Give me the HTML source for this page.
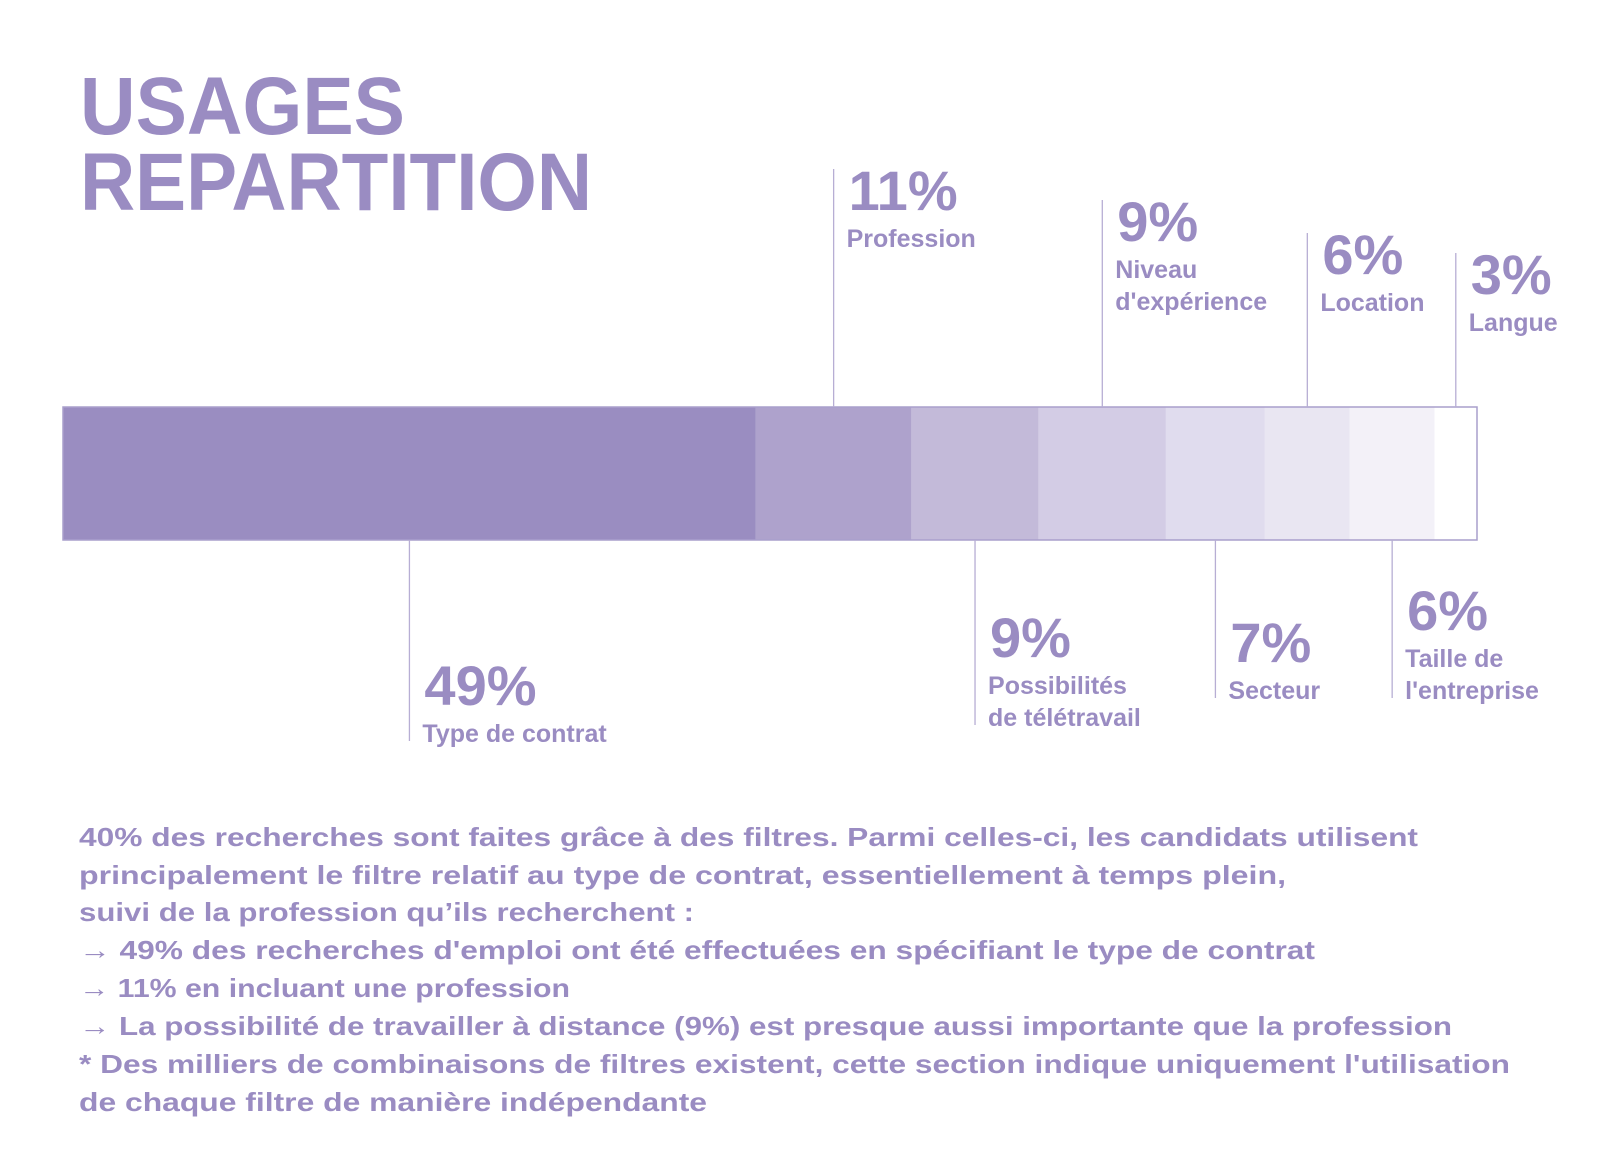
<!DOCTYPE html>
<html><head><meta charset="utf-8"><style>
html,body{margin:0;padding:0;background:#fff;}
svg{display:block;font-family:"Liberation Sans",sans-serif;}
</style></head><body>
<svg id="chart" width="1600" height="1162" viewBox="0 0 1600 1162">
  <g fill="#9a8cc2" font-weight="bold" font-size="82">
    <text x="80" y="134" textLength="325" lengthAdjust="spacingAndGlyphs">USAGES</text>
    <text x="80" y="210" textLength="512" lengthAdjust="spacingAndGlyphs">REPARTITION</text>
  </g>
  <g id="bars"></g>
  <g id="labels"></g>
  <g fill="#9a8cc2" font-weight="bold" font-size="26">
    <text x="79" y="846" textLength="1339" lengthAdjust="spacingAndGlyphs">40% des recherches sont faites grâce à des filtres. Parmi celles-ci, les candidats utilisent</text>
    <text x="79" y="884" textLength="1207" lengthAdjust="spacingAndGlyphs">principalement le filtre relatif au type de contrat, essentiellement à temps plein,</text>
    <text x="79" y="921" textLength="615" lengthAdjust="spacingAndGlyphs">suivi de la profession qu’ils recherchent :</text>
    <text x="79" y="959" textLength="1236" lengthAdjust="spacingAndGlyphs">→ 49% des recherches d'emploi ont été effectuées en spécifiant le type de contrat</text>
    <text x="79" y="997" textLength="491" lengthAdjust="spacingAndGlyphs">→ 11% en incluant une profession</text>
    <text x="79" y="1035" textLength="1373" lengthAdjust="spacingAndGlyphs">→ La possibilité de travailler à distance (9%) est presque aussi importante que la profession</text>
    <text x="79" y="1073" textLength="1431" lengthAdjust="spacingAndGlyphs">* Des milliers de combinaisons de filtres existent, cette section indique uniquement l'utilisation</text>
    <text x="79" y="1111" textLength="628" lengthAdjust="spacingAndGlyphs">de chaque filtre de manière indépendante</text>
  </g>
</svg>
<script>
const categories = ["Type de contrat","Profession","Possibilités|de télétravail","Niveau|d'expérience","Secteur","Location","Taille de|l'entreprise","Langue"];
const values = [49, 11, 9, 9, 7, 6, 6, 3];
const valueLabels = ["49%","11%","9%","9%","7%","6%","6%","3%"];
const sides = ["bottom","top","bottom","top","bottom","top","bottom","top"];
const leaderEnds = [741, 169, 725, 200, 698, 233, 698, 253];
const colors = ["#9a8dc1","#aea2cc","#c3bad9","#d3cce5","#e0dcee","#e9e6f2","#f3f1f8","#ffffff"];

const NS = "http://www.w3.org/2000/svg";
const X0 = 63, X1 = 1477, BAR_TOP = 407, BAR_BOT = 540;
const total = values.reduce((a,b)=>a+b,0);
function xScale(v){ return X0 + (v/total)*(X1-X0); }
function mk(tag, attrs){ const e=document.createElementNS(NS,tag); for(const k in attrs) e.setAttribute(k,attrs[k]); return e; }

const bars = document.getElementById('bars');
const labels = document.getElementById('labels');
let cum = 0;
values.forEach((v,i)=>{
  const xa = xScale(cum), xb = xScale(cum+v);
  cum += v;
  const r = mk('rect',{x:xa,y:BAR_TOP,width:xb-xa,height:BAR_BOT-BAR_TOP,fill:colors[i]});
  
  
  bars.appendChild(r);
  const cx = (xa+xb)/2;
  const top = sides[i]==="top";
  const ln = mk('line',{x1:cx,x2:cx,y1: top?leaderEnds[i]:BAR_BOT, y2: top?BAR_TOP:leaderEnds[i], stroke:"#b7aed4","stroke-width":1.3});
  
  
  labels.appendChild(ln);
  const parts = categories[i].split("|");
  let pctY;
  if (top) pctY = leaderEnds[i] + 41;
  else pctY = leaderEnds[i] - 36 - (parts.length-1)*32;
  const p = mk('text',{x:cx+15,y:pctY,fill:"#9a8cc2","font-weight":"bold","font-size":56});
  p.textContent = valueLabels[i];
  
  
  labels.appendChild(p);
  parts.forEach((t,j)=>{
    const tt = mk('text',{x:cx+13,y:pctY+37+j*32,fill:"#9a8cc2","font-weight":"bold","font-size":25});
    tt.textContent = t;
    
    
    labels.appendChild(tt);
  });
});
const outline = mk('rect',{x:X0,y:BAR_TOP,width:X1-X0,height:BAR_BOT-BAR_TOP,fill:"none",stroke:"#a99fcc","stroke-width":1.5});


bars.appendChild(outline);
</script>
</body></html>
